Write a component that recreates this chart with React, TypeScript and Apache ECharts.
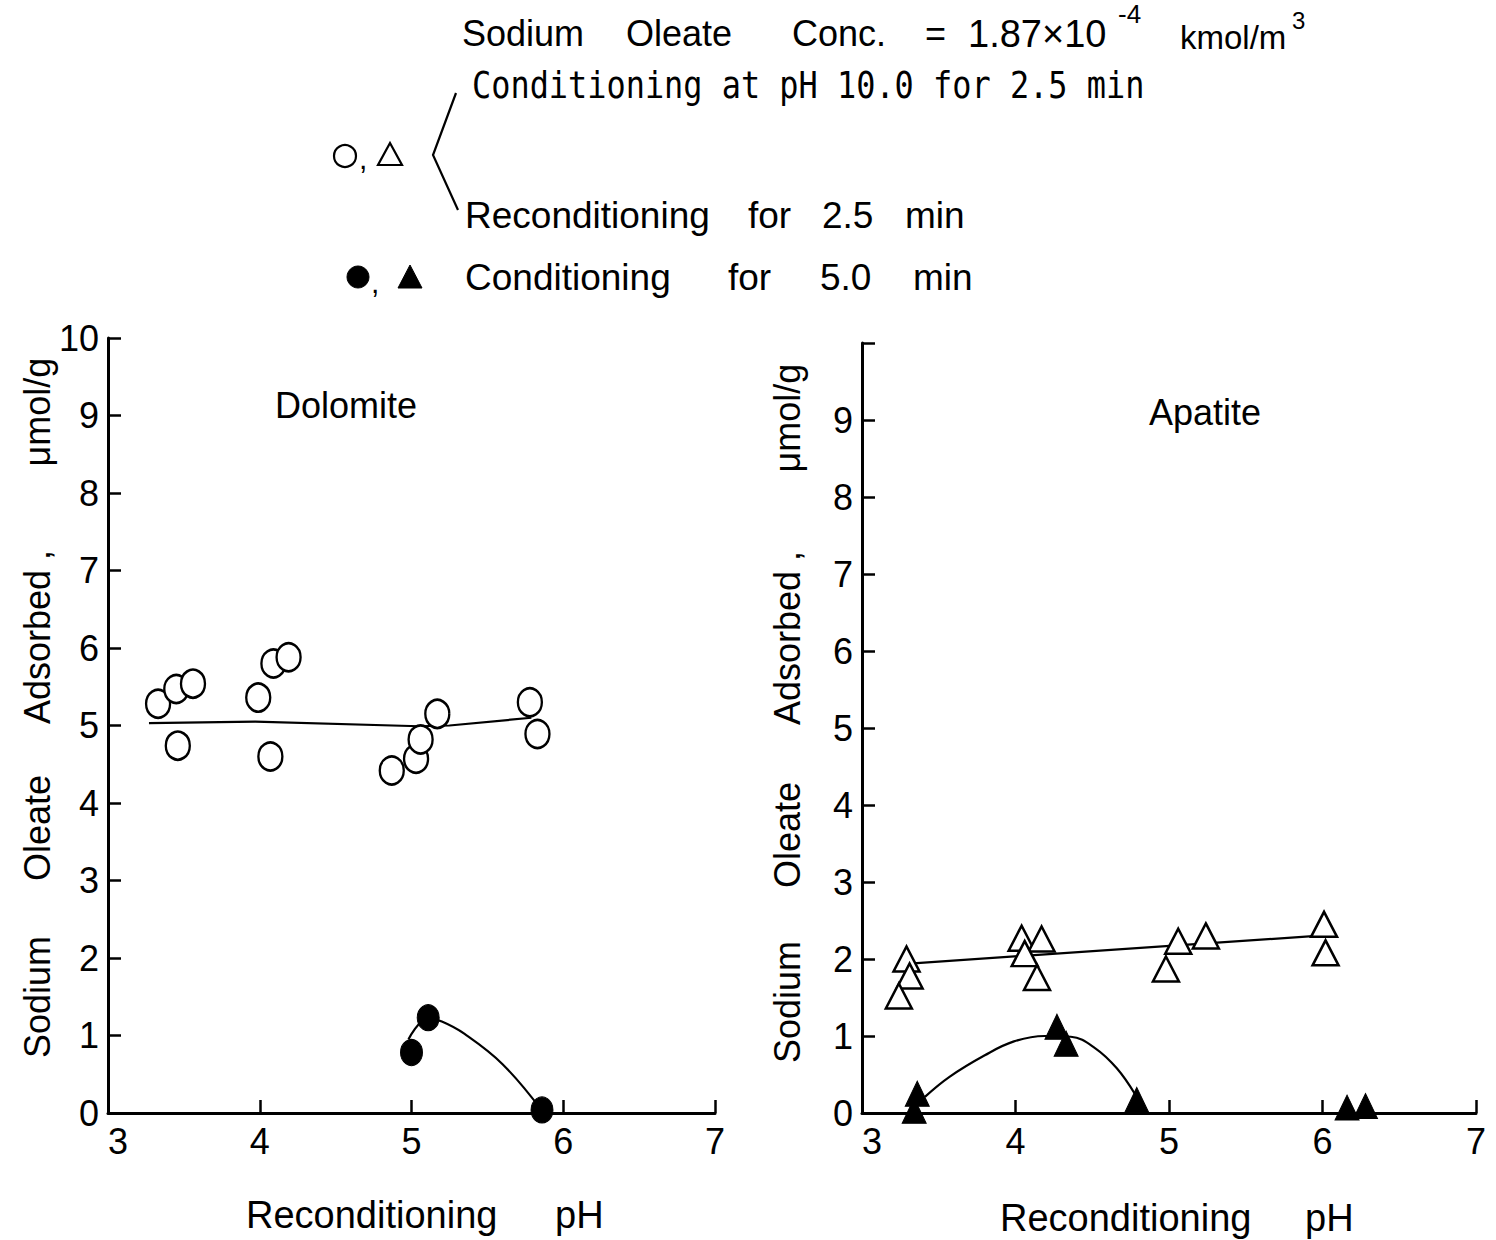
import React, { useEffect, useRef } from 'react';
import * as echarts from 'echarts';

// ---- data ----
const xMin = 3;
const xMax = 7;
const yMin = 0;
const yMax = 10;

// Dolomite – open circles (reconditioning)
const dolomiteOpenX = [3.33, 3.45, 3.56, 3.46, 3.99, 4.09, 4.19, 4.07, 4.87, 5.03, 5.06, 5.17, 5.78, 5.83];
const dolomiteOpenY = [5.28, 5.47, 5.54, 4.74, 5.36, 5.80, 5.88, 4.60, 4.42, 4.57, 4.82, 5.15, 5.30, 4.89];
const dolomiteFitX = [3.27, 3.97, 5.05, 5.25, 5.79];
const dolomiteFitY = [5.03, 5.05, 4.99, 5.0, 5.1];
// Dolomite – filled circles (conditioning 5.0 min)
const dolomiteFilledX = [5.0, 5.11, 5.86];
const dolomiteFilledY = [0.78, 1.23, 0.04];
const dolomiteCurveX = [4.98, 5.11, 5.2, 5.35, 5.6, 5.86];
const dolomiteCurveY = [0.95, 1.22, 1.18, 1.02, 0.63, 0.03];

// Apatite – open triangles
const apatiteOpenX = [3.29, 3.31, 3.24, 4.04, 4.17, 4.06, 4.14, 4.98, 5.06, 5.24, 6.01, 6.02];
const apatiteOpenY = [2.0, 1.78, 1.52, 2.27, 2.26, 2.07, 1.76, 1.87, 2.23, 2.3, 2.45, 2.08];
const apatiteFitX = [3.31, 6.03];
const apatiteFitY = [1.94, 2.31];
// Apatite – filled triangles
const apatiteFilledX = [3.36, 3.34, 4.27, 4.33, 4.79, 6.16, 6.28];
const apatiteFilledY = [0.25, 0.03, 1.12, 0.9, 0.17, 0.07, 0.09];
const apatiteCurveX = [3.41, 3.57, 3.8, 3.99, 4.19, 4.36, 4.52, 4.66, 4.78];
const apatiteCurveY = [0.21, 0.47, 0.75, 0.93, 1.0, 0.99, 0.84, 0.58, 0.24];

const zip = (xs: number[], ys: number[]) => xs.map((x, i) => [x, ys[i]]);

const FONT = '"Liberation Sans", Arial, sans-serif';
const MONO = '"DejaVu Sans Mono", monospace';

function txt(text: string, x: number, y: number, size = 36, extra: any = {}) {
  return {
    type: 'text',
    x,
    y,
    style: {
      text,
      fontSize: size,
      fontFamily: extra.fontFamily || FONT,
      fill: '#000',
      textAlign: extra.align || 'left',
      textVerticalAlign: 'middle',
    },
  };
}

function vtxt(text: string, x: number, y: number, size = 36) {
  return {
    type: 'text',
    x,
    y,
    rotation: Math.PI / 2,
    style: {
      text,
      fontSize: size,
      fontFamily: FONT,
      fill: '#000',
      textAlign: 'center',
      textVerticalAlign: 'middle',
    },
  };
}

function makeXAxis(gridIndex: number) {
  return {
    gridIndex,
    type: 'value',
    min: xMin,
    max: xMax,
    interval: 1,
    axisLine: { show: true, onZero: false, lineStyle: { color: '#000', width: 3 } },
    axisTick: { show: true, inside: true, length: 13, lineStyle: { color: '#000', width: 2.5 } },
    axisLabel: { color: '#000', fontSize: 36, fontFamily: FONT, margin: 10, alignMinLabel: 'left' },
    splitLine: { show: false },
  };
}

function makeYAxis(gridIndex: number, hideTop: boolean) {
  return {
    gridIndex,
    type: 'value',
    min: yMin,
    max: yMax,
    interval: 1,
    axisLine: { show: true, onZero: false, lineStyle: { color: '#000', width: 3 } },
    axisTick: { show: true, inside: true, length: 13, lineStyle: { color: '#000', width: 2.5 } },
    axisLabel: {
      color: '#000',
      fontSize: 36,
      fontFamily: FONT,
      margin: 9,
      formatter: (v: number) => (hideTop && v === yMax ? '' : String(v)),
    },
    splitLine: { show: false },
  };
}

export default function App() {
  const ref = useRef<HTMLDivElement>(null);

  useEffect(() => {
    if (!ref.current) return;
    const chart = echarts.init(ref.current, undefined, { renderer: 'svg' });

    const openItem = { color: '#fff', borderColor: '#000', borderWidth: 2.5, opacity: 1 };
    const filledItem = { color: '#000', borderColor: '#000', borderWidth: 1, opacity: 1 };
    const lineStyle = { color: '#000', width: 2.2 };

    const option: any = {
      animation: false,
      backgroundColor: '#fff',
      grid: [
        { left: 108, top: 338, width: 607, height: 775 },
        { left: 862, top: 343, width: 614, height: 770 },
      ],
      xAxis: [makeXAxis(0), makeXAxis(1)],
      yAxis: [makeYAxis(0, false), makeYAxis(1, true)],
      series: [
        {
          type: 'line', xAxisIndex: 0, yAxisIndex: 0, data: zip(dolomiteFitX, dolomiteFitY),
          showSymbol: false, lineStyle, z: 1,
        },
        {
          type: 'line', xAxisIndex: 0, yAxisIndex: 0, data: zip(dolomiteCurveX, dolomiteCurveY),
          showSymbol: false, smooth: 0.4, lineStyle, z: 1,
        },
        {
          type: 'scatter', xAxisIndex: 0, yAxisIndex: 0, data: zip(dolomiteOpenX, dolomiteOpenY),
          symbol: 'circle', symbolSize: [24, 28], itemStyle: openItem, z: 3, clip: false,
        },
        {
          type: 'scatter', xAxisIndex: 0, yAxisIndex: 0, data: zip(dolomiteFilledX, dolomiteFilledY),
          symbol: 'circle', symbolSize: [22, 26], itemStyle: filledItem, z: 3, clip: false,
        },
        {
          type: 'line', xAxisIndex: 1, yAxisIndex: 1, data: zip(apatiteFitX, apatiteFitY),
          showSymbol: false, lineStyle, z: 1,
        },
        {
          type: 'line', xAxisIndex: 1, yAxisIndex: 1, data: zip(apatiteCurveX, apatiteCurveY),
          showSymbol: false, smooth: 0.4, lineStyle, z: 1,
        },
        {
          type: 'scatter', xAxisIndex: 1, yAxisIndex: 1, data: zip(apatiteOpenX, apatiteOpenY),
          symbol: 'triangle', symbolSize: [26, 25], itemStyle: openItem, z: 3, clip: false,
        },
        {
          type: 'scatter', xAxisIndex: 1, yAxisIndex: 1, data: zip(apatiteFilledX, apatiteFilledY),
          symbol: 'triangle', symbolSize: [24, 25], itemStyle: filledItem, z: 3, clip: false,
        },
      ],
      graphic: [
        // header line 1
        txt('Sodium', 462, 33),
        txt('Oleate', 626, 33),
        txt('Conc.', 792, 33),
        txt('=', 925, 33),
        txt('1.87×10', 968, 34, 38),
        txt('-4', 1118, 14, 26),
        txt('kmol/m', 1180, 37, 33),
        txt('3', 1292, 20, 24),
        // header line 2
        {
          type: 'text', x: 472, y: 84, scaleX: 0.84,
          style: {
            text: 'Conditioning at pH 10.0 for 2.5 min', fontSize: 38, fontFamily: MONO,
            fill: '#000', textAlign: 'left', textVerticalAlign: 'middle',
          },
        },
        // legend symbols, open
        { type: 'circle', shape: { cx: 345, cy: 156, r: 11 }, style: { fill: '#fff', stroke: '#000', lineWidth: 2.2 } },
        txt(',', 359, 158, 30),
        { type: 'polygon', shape: { points: [[390, 143], [378, 165], [402, 165]] }, style: { fill: '#fff', stroke: '#000', lineWidth: 2.2 } },
        { type: 'polyline', shape: { points: [[456, 93], [433, 155], [458, 210]] }, style: { stroke: '#000', lineWidth: 2.2, fill: null } },
        // line 3
        txt('Reconditioning', 465, 215, 37),
        txt('for', 748, 215, 37),
        txt('2.5', 822, 215, 37),
        txt('min', 905, 215, 37),
        // legend symbols, filled
        { type: 'circle', shape: { cx: 358, cy: 277, r: 11 }, style: { fill: '#000', stroke: '#000', lineWidth: 1 } },
        txt(',', 371, 282, 30),
        { type: 'polygon', shape: { points: [[410, 265], [398, 288], [422, 288]] }, style: { fill: '#000', stroke: '#000', lineWidth: 1 } },
        txt('Conditioning', 465, 277, 37),
        txt('for', 728, 277, 37),
        txt('5.0', 820, 277, 37),
        txt('min', 913, 277, 37),
        // panel titles
        txt('Dolomite', 346, 405, 36, { align: 'center' }),
        txt('Apatite', 1205, 412, 36, { align: 'center' }),
        // x axis titles
        txt('Reconditioning', 246, 1215, 38),
        txt('pH', 555, 1215, 38),
        txt('Reconditioning', 1000, 1218, 38),
        txt('pH', 1305, 1218, 38),
        // y axis titles (left)
        vtxt('Sodium', 37, 997),
        vtxt('Oleate', 37, 828),
        vtxt('Adsorbed ,', 37, 637),
        vtxt('μmol/g', 37, 412),
        // y axis titles (right)
        vtxt('Sodium', 787, 1002),
        vtxt('Oleate', 787, 835),
        vtxt('Adsorbed ,', 787, 638),
        vtxt('μmol/g', 787, 418),
      ],
    };

    chart.setOption(option);
    return () => chart.dispose();
  }, []);

  return (
    <div
      ref={ref}
      style={{ position: 'absolute', left: 0, top: 0, width: 1496, height: 1240, background: '#fff' }}
    />
  );
}
